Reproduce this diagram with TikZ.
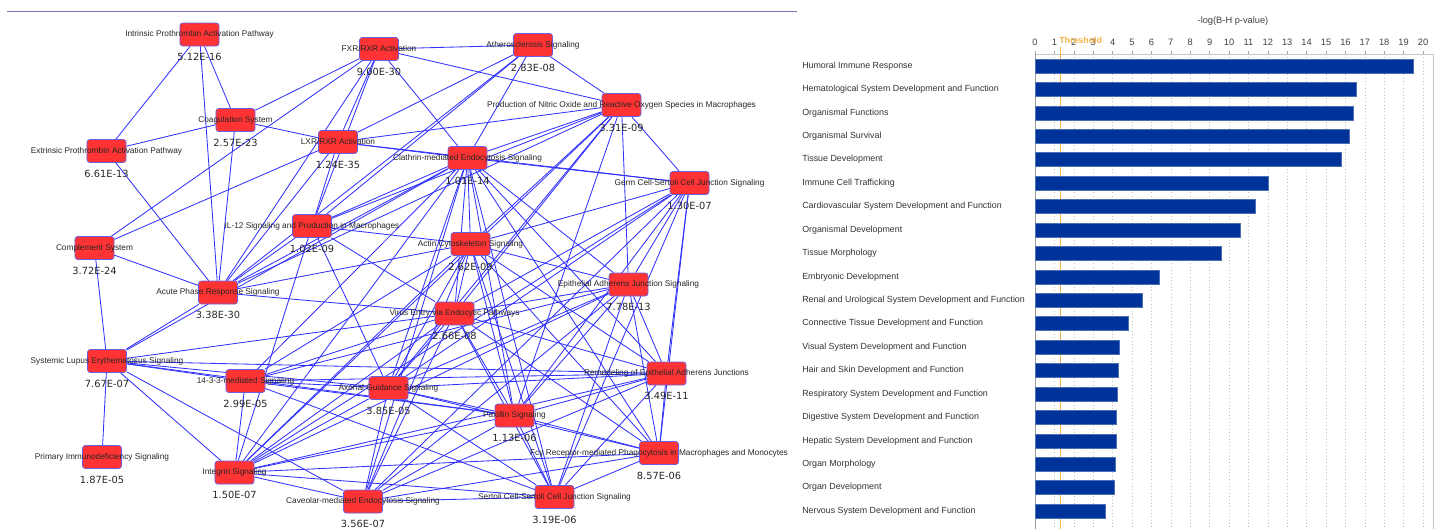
\documentclass[tikz,border=0pt]{standalone}
\usepackage{fontspec}
\setmainfont{Liberation Sans}
\newfontfamily\pvalfont{DejaVu Sans}
\usetikzlibrary{positioning}

\definecolor{boxred}{RGB}{255,51,51}
\definecolor{boxrim}{RGB}{105,95,230}
\definecolor{linkblue}{RGB}{50,50,255}
\definecolor{barblue}{RGB}{0,51,153}
\definecolor{thresh}{RGB}{245,178,70}
\definecolor{gridgray}{RGB}{195,195,195}
\definecolor{rulecol}{RGB}{115,115,190}

\pgfdeclarelayer{links}
\pgfsetlayers{links,main}

\tikzstyle{pathbox}=[draw=boxrim, fill=boxred, rounded corners=0.07cm, minimum width=0.975cm, minimum height=0.575cm, inner sep=0pt, line width=0.5pt]
\tikzstyle{pathname}=[inner sep=0pt, text=black!85, font=\fontsize{5.9pt}{7pt}\selectfont]
\tikzstyle{pval}=[inner sep=0pt, text=black!85, font=\pvalfont\fontsize{7pt}{8pt}\selectfont]
\tikzstyle{link}=[draw=linkblue, line width=0.6pt]
\tikzstyle{catlabel}=[anchor=west, inner sep=0pt, text=black!80, font=\fontsize{6.3pt}{7pt}\selectfont]
\tikzstyle{ticklabel}=[inner sep=0pt, text=black!75, font=\fontsize{6.6pt}{7pt}\selectfont]

\newcommand{\pathway}[4]{%
  \node[pathbox, label={[pval, label distance=0.17cm]below:#4}] (#1) at (#2) {};
  \node[pathname] (#1-name) at (#1) {#3};}

\begin{document}
\begin{tikzpicture}[x=0.025cm, y=-0.025cm]
  \useasboundingbox (0,0) rectangle (1440,529);
  \draw[rulecol, line width=0.7pt] (7,11) -- (797,11);

  \pathway{intr}{199.5,34.5}{Intrinsic Prothrombin Activation Pathway}{5.12E-16}
  \pathway{fxr}{379,49}{FXR/RXR Activation}{9.00E-30}
  \pathway{athero}{533,45}{Atherosclerosis Signaling}{2.83E-08}
  \pathway{coag}{235.5,120}{Coagulation System}{2.57E-23}
  \pathway{nitric}{621.5,105}{Production of Nitric Oxide and Reactive Oxygen Species in Macrophages}{3.31E-09}
  \pathway{extr}{106.5,151}{Extrinsic Prothrombin Activation Pathway}{6.61E-13}
  \pathway{lxr}{338,142}{LXR/RXR Activation}{1.24E-35}
  \pathway{clath}{467.5,158}{Clathrin-mediated Endocytosis Signaling}{1.01E-14}
  \pathway{germ}{689.5,183}{Germ Cell-Sertoli Cell Junction Signaling}{1.30E-07}
  \pathway{il12}{312,226}{IL-12 Signaling and Production in Macrophages}{1.02E-09}
  \pathway{compl}{94.5,248}{Complement System}{3.72E-24}
  \pathway{actin}{470.5,244}{Actin Cytoskeleton Signaling}{2.62E-09}
  \pathway{acute}{218,292.5}{Acute Phase Response Signaling}{3.38E-30}
  \pathway{epith}{628.5,284.5}{Epithelial Adherens Junction Signaling}{7.78E-13}
  \pathway{virus}{454.5,313.5}{Virus Entry via Endocytic Pathways}{2.66E-08}
  \pathway{lupus}{107,361}{Systemic Lupus Erythematosus Signaling}{7.67E-07}
  \pathway{ywha}{245.5,381}{14-3-3-mediated Signaling}{2.99E-05}
  \pathway{axon}{388.5,388}{Axonal Guidance Signaling}{3.85E-05}
  \pathway{remod}{666.5,373.5}{Remodeling of Epithelial Adherens Junctions}{3.49E-11}
  \pathway{paxil}{514.5,415.5}{Paxillin Signaling}{1.13E-06}
  \pathway{primary}{102,457}{Primary Immunodeficiency Signaling}{1.87E-05}
  \pathway{integ}{234.5,472.5}{Integrin Signaling}{1.50E-07}
  \pathway{fcg}{659,453}{Fcγ Receptor-mediated Phagocytosis in Macrophages and Monocytes}{8.57E-06}
  \pathway{caveo}{363,501.5}{Caveolar-mediated Endocytosis Signaling}{3.56E-07}
  \pathway{sert}{554.5,497}{Sertoli Cell-Sertoli Cell Junction Signaling}{3.19E-06}

  \begin{pgfonlayer}{links}
    \foreach \a/\b in {intr/extr, intr/coag, intr/acute, extr/coag, extr/acute,
        coag/fxr, coag/lxr, coag/acute, compl/fxr, compl/lxr, compl/acute, compl/lupus,
        fxr/athero, fxr/lxr, fxr/il12, fxr/acute, fxr/nitric, fxr/clath,
        lxr/il12, lxr/acute, lxr/clath, lxr/athero, lxr/nitric, lxr/germ,
        il12/acute, il12/athero, il12/nitric, il12/clath, il12/virus, il12/axon, il12/integ, il12/actin,
        athero/nitric, athero/clath, athero/acute,
        nitric/clath, nitric/actin, nitric/virus, nitric/axon, nitric/germ, nitric/acute, nitric/paxil, nitric/integ, nitric/epith,
        acute/clath, acute/actin, acute/lupus, acute/virus,
        lupus/primary, lupus/ywha, lupus/axon, lupus/paxil, lupus/integ, lupus/caveo, lupus/virus, lupus/clath, lupus/remod,
        clath/actin, clath/virus, clath/axon, clath/paxil, clath/integ, clath/caveo, clath/ywha, clath/epith, clath/remod, clath/fcg, clath/sert, clath/germ,
        actin/virus, actin/axon, actin/paxil, actin/integ, actin/caveo, actin/ywha, actin/epith, actin/remod, actin/fcg, actin/sert, actin/germ,
        virus/axon, virus/paxil, virus/integ, virus/caveo, virus/ywha, virus/epith, virus/remod, virus/fcg, virus/sert, virus/germ,
        axon/paxil, axon/integ, axon/caveo, axon/ywha, axon/epith, axon/remod, axon/fcg, axon/sert, axon/germ,
        paxil/integ, paxil/caveo, paxil/ywha, paxil/epith, paxil/remod, paxil/fcg, paxil/sert, paxil/germ,
        integ/caveo, integ/ywha, integ/epith, integ/remod, integ/fcg, integ/sert, integ/germ,
        caveo/epith, caveo/remod, caveo/fcg, caveo/sert, caveo/germ,
        ywha/epith, ywha/remod, ywha/sert,
        epith/remod, epith/fcg, epith/sert, epith/germ,
        remod/fcg, remod/sert, remod/germ, fcg/sert, fcg/germ, sert/germ}
      \draw[link] (\a) -- (\b);
  \end{pgfonlayer}

  \node[ticklabel] (axis-title) at (1233,21) {-log(B-H p-value)};
  \foreach \t in {0,...,20} {
    \draw[gridgray, dotted] (1035+19.4*\t,54) -- (1035+19.4*\t,529);
    \draw[gray!70] (1035+19.4*\t,51) -- (1035+19.4*\t,54);
    \node[ticklabel] (tick\t) at (1035+19.4*\t,42) {\t};
  }
  \draw[gray!45] (1035,54) -- (1433,54) -- (1433,529);
  \draw[gray!80] (1035,54) -- (1035,529);
  \draw[thresh, line width=0.6pt] (1060,47) -- (1060,529);
  \node[anchor=west, inner sep=0pt, text=thresh, font=\bfseries\fontsize{6.3pt}{7pt}\selectfont] (threshold) at (1059,40) {Threshold};

  \foreach \v/\cat [count=\i from 0] in {19.48/Humoral Immune Response,
      16.55/Hematological System Development and Function, 16.4/Organismal Functions,
      16.2/Organismal Survival, 15.8/Tissue Development, 12.0/Immune Cell Trafficking,
      11.35/Cardiovascular System Development and Function, 10.6/Organismal Development,
      9.6/Tissue Morphology, 6.4/Embryonic Development,
      5.5/Renal and Urological System Development and Function,
      4.8/Connective Tissue Development and Function, 4.33/Visual System Development and Function,
      4.28/Hair and Skin Development and Function, 4.25/Respiratory System Development and Function,
      4.18/Digestive System Development and Function, 4.17/Hepatic System Development and Function,
      4.12/Organ Morphology, 4.1/Organ Development, 3.6/Nervous System Development and Function} {
    \filldraw[fill=barblue, draw=barblue!70!white, line width=0.3pt] (1035,59+23.42*\i) rectangle (1035+19.4*\v,73+23.42*\i);
    \node[catlabel] (cat\i) at (802,66+23.42*\i) {\cat};
  }
\end{tikzpicture}
\end{document}
